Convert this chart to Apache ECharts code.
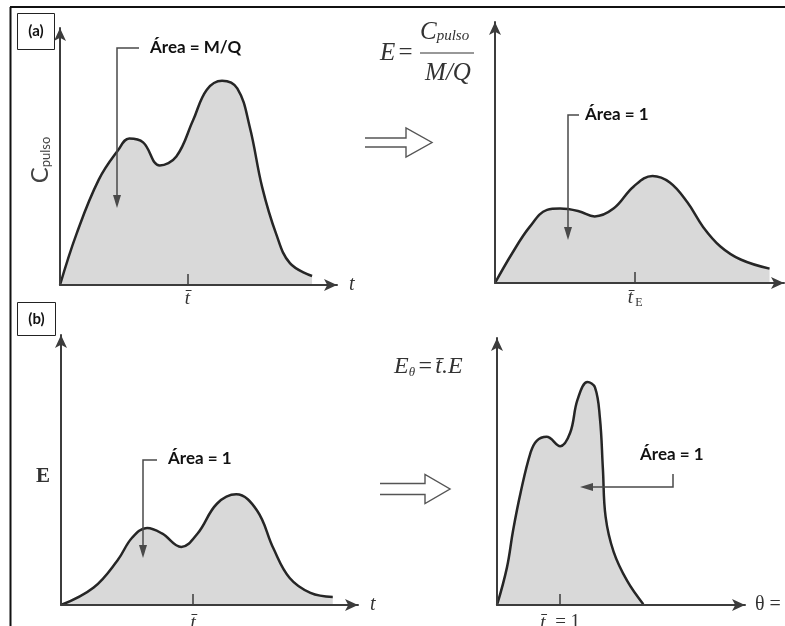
<!DOCTYPE html>
<html>
<head>
<meta charset="utf-8">
<script src="https://cdn.jsdelivr.net/npm/echarts@6/dist/echarts.min.js"></script>
<style>
  html, body { margin: 0; padding: 0; background: #fff; }
  #chart { width: 785px; height: 626px; }
</style>
</head>
<body>
<div id="chart"></div>
<script>
// curves, [t, value] on a 0..100 scale per panel
const pulseCurve = [[0, 0], [6, 20], [14, 41], [21, 52.5], [25, 57], [30, 55.5], [36, 46.5], [42, 50], [48, 64], [53, 76], [58.5, 79.5], [64, 76.5], [68.5, 61.5], [73, 38], [78, 20], [83, 8.5], [91, 3.5]];
const eCurveA = [[0, 0], [6, 11.5], [12, 21.5], [18, 28], [22.5, 28.5], [29, 27.5], [34.5, 25.5], [41, 28.5], [48, 37], [54.5, 41], [60.5, 38.5], [66.5, 31], [72, 21.5], [78, 14], [85, 9], [95, 5.5]];
const eCurveB = [[0, 0], [11, 6.5], [19, 16.5], [24, 25], [29, 28.5], [34, 26.5], [40.5, 21.5], [46, 26.5], [52.5, 37.5], [59, 41], [66, 35], [71.5, 21], [77, 10], [84, 4.5], [91.5, 3]];
const thetaCurve = [[0, 0], [4, 14], [6.5, 28], [9.5, 42], [13.5, 57], [16, 61.5], [20, 63], [25.5, 59.5], [29.5, 64.5], [32.5, 77], [36.5, 83.5], [39.5, 81.5], [41.5, 70], [42.7, 51], [43.8, 33], [47, 20], [52.5, 9], [59, 0.3]];

// mean residence time tick positions
const meanTicks = [46, 48.5, 44.5, 25.5];
const tickLabels = ['{t|t\u0304}', '{t|t\u0304}{s|E}', '{t|t\u0304}', '{t|t\u0304}{n|  = 1}'];
const axisNames = ['t', '', 't', '\u03b8 ='];

const grids = [
  { left: 60, top: 28, width: 277, height: 257 },
  { left: 495, top: 22, width: 289, height: 261 },
  { left: 61, top: 335, width: 297, height: 270 },
  { left: 497, top: 338, width: 248, height: 267 }
];
const curves = [pulseCurve, eCurveA, eCurveB, thetaCurve];

const axisColor = '#3c3c3c';
const serif = '"Liberation Serif", "DejaVu Serif", serif';
const sans = 'Lato, "Open Sans", sans-serif';

const xAxes = grids.map((g, i) => ({
  type: 'value', gridIndex: i, min: 0, max: 100, z: 5,
  splitLine: { show: false },
  axisLine: { lineStyle: { color: axisColor, width: 2 }, symbol: ['none', 'arrow'], symbolSize: [9, 13] },
  axisTick: { show: true, inside: true, length: 11, customValues: [meanTicks[i]], lineStyle: { color: axisColor, width: 1.5 } },
  axisLabel: {
    show: true, customValues: [meanTicks[i]], margin: i >= 2 ? 8 : 4,
    formatter: () => tickLabels[i],
    rich: {
      t: { fontFamily: serif, fontStyle: 'italic', fontSize: 19, color: '#333' },
      s: { fontFamily: serif, fontSize: 12, color: '#333', padding: [10, 0, 0, 2] },
      n: { fontFamily: serif, fontSize: 19, color: '#333' }
    }
  },
  name: axisNames[i], nameLocation: 'end', nameGap: i === 3 ? 10 : 12,
  nameTextStyle: { fontFamily: serif, fontStyle: i === 3 ? 'normal' : 'italic', fontSize: 20, color: '#333' }
}));

const yAxes = grids.map((g, i) => ({
  type: 'value', gridIndex: i, min: 0, max: 100, z: 5,
  splitLine: { show: false },
  axisLine: { show: true, lineStyle: { color: axisColor, width: 2 }, symbol: ['none', 'arrow'], symbolSize: [9, 13] },
  axisTick: { show: false },
  axisLabel: { show: false }
}));

const series = curves.map((c, i) => ({
  type: 'line', xAxisIndex: i, yAxisIndex: i, data: c,
  smooth: 0.4, symbol: 'none',
  lineStyle: { color: '#262626', width: 2.5 },
  areaStyle: { color: '#d9d9d9', opacity: 1 },
  z: 1
}));

const lineStyle = { stroke: '#4a4a4a', lineWidth: 1.5, fill: null };
function bracket(points, tip, dir) {
  const [x, y] = tip;
  const head = dir === 'down'
    ? [[x, y], [x - 4, y - 13], [x + 4, y - 13]]
    : [[x, y], [x + 13, y - 4], [x + 13, y + 4]];
  return [
    { type: 'polyline', shape: { points }, style: lineStyle, z: 10 },
    { type: 'polygon', shape: { points: head }, style: { fill: '#4a4a4a' }, z: 10 }
  ];
}
function areaLabel(text, x, y) {
  return { type: 'text', x, y, z: 10, style: { text, font: 'bold 17px ' + sans, fill: '#111', verticalAlign: 'middle' } };
}
function doubleArrow(x0, x1, xh, yc, gap, hh) {
  return {
    type: 'polyline', z: 10,
    shape: { points: [[x0, yc - gap], [xh, yc - gap], [xh, yc - hh], [x1, yc], [xh, yc + hh], [xh, yc + gap], [x0, yc + gap]] },
    style: { stroke: '#555', lineWidth: 1.4, fill: null }
  };
}

const graphics = [
  // frame
  { type: 'line', shape: { x1: 10, y1: 7, x2: 785, y2: 7 }, style: { stroke: '#111', lineWidth: 2 } },
  { type: 'line', shape: { x1: 10.5, y1: 7, x2: 10.5, y2: 626 }, style: { stroke: '#111', lineWidth: 2 } },
  // panel tags
  { type: 'rect', shape: { x: 17.5, y: 13.5, width: 37, height: 36 }, style: { fill: '#fff', stroke: '#222', lineWidth: 1 } },
  { type: 'text', x: 36, y: 31, style: { text: '(a)', font: 'bold 15px ' + sans, fill: '#111', align: 'center', verticalAlign: 'middle' } },
  { type: 'rect', shape: { x: 17.5, y: 302.5, width: 38, height: 33 }, style: { fill: '#fff', stroke: '#222', lineWidth: 1 } },
  { type: 'text', x: 36.5, y: 319, style: { text: '(b)', font: 'bold 15px ' + sans, fill: '#111', align: 'center', verticalAlign: 'middle' } },
  // y axis labels
  {
    type: 'text', x: 40, y: 160, rotation: Math.PI / 2,
    style: {
      text: '{c|C}{p|pulso}', align: 'center', verticalAlign: 'middle',
      rich: { c: { fontFamily: sans, fontSize: 24, fill: '#444' }, p: { fontFamily: sans, fontSize: 13, fill: '#444', padding: [12, 0, 0, 0] } }
    }
  },
  { type: 'text', x: 43, y: 477, style: { text: 'E', font: 'bold 21px ' + serif, fill: '#333', align: 'center', verticalAlign: 'middle' } },
  // E = C_pulso / (M/Q)
  { type: 'text', x: 380, y: 53, style: { text: '{e|E} {q|=}', verticalAlign: 'middle', rich: { e: { fontFamily: serif, fontStyle: 'italic', fontSize: 25, fill: '#333' }, q: { fontFamily: serif, fontSize: 25, fill: '#333' } } } },
  { type: 'text', x: 420, y: 32, style: { text: '{c|C}{p|pulso}', verticalAlign: 'middle', rich: { c: { fontFamily: serif, fontStyle: 'italic', fontSize: 25, fill: '#333' }, p: { fontFamily: serif, fontStyle: 'italic', fontSize: 15, fill: '#333', padding: [8, 0, 0, 0] } } } },
  { type: 'line', shape: { x1: 420, y1: 53, x2: 474, y2: 53 }, style: { stroke: '#333', lineWidth: 1.2 } },
  { type: 'text', x: 448, y: 73, style: { text: 'M/Q', font: 'italic 25px ' + serif, fill: '#333', align: 'center', verticalAlign: 'middle' } },
  // E_theta = t.E
  { type: 'text', x: 394, y: 367, style: { text: '{e|E}{s|\u03b8} {q|=} {e|t\u0304.E}', verticalAlign: 'middle', rich: { e: { fontFamily: serif, fontStyle: 'italic', fontSize: 24, fill: '#333' }, s: { fontFamily: serif, fontStyle: 'italic', fontSize: 13, fill: '#333', padding: [12, 0, 0, 0] }, q: { fontFamily: serif, fontSize: 24, fill: '#333' } } } },
  // transformation arrows
  doubleArrow(365, 432, 406, 142.5, 4.5, 14.5),
  doubleArrow(380, 450, 425, 489, 5.5, 14.5),
  // area annotations
  areaLabel('\u00c1rea = M/Q', 150, 48),
  ...bracket([[139, 48], [117, 48], [117, 196]], [117, 208], 'down'),
  areaLabel('\u00c1rea = 1', 585, 115),
  ...bracket([[579, 115], [568, 115], [568, 228]], [568, 240], 'down'),
  areaLabel('\u00c1rea = 1', 168, 459),
  ...bracket([[157, 460], [143, 460], [143, 546]], [143, 558], 'down'),
  areaLabel('\u00c1rea = 1', 640, 455),
  ...bracket([[673, 474], [673, 487], [592, 487]], [580, 487], 'left')
];

const chart = echarts.init(document.getElementById('chart'), null, { renderer: 'canvas' });
chart.setOption({
  backgroundColor: '#fff',
  animation: false,
  grid: grids.map(g => Object.assign({ containLabel: false, outerBoundsMode: 'none' }, g)),
  xAxis: xAxes,
  yAxis: yAxes,
  series: series,
  graphic: graphics
});
</script>
</body>
</html>
